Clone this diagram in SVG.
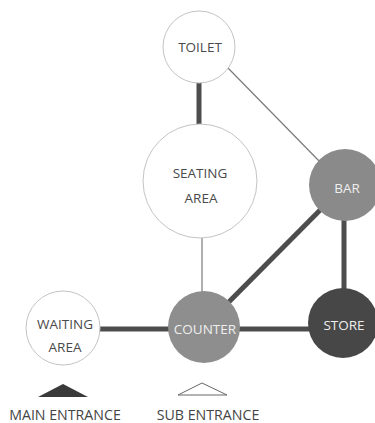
<svg xmlns="http://www.w3.org/2000/svg" width="375" height="423" viewBox="0 0 375 423">
<style>
.thick{stroke:#4d4d4d;stroke-width:5;fill:none}
.thin{stroke:#7a7a7a;stroke-width:1.2;fill:none}
.white{fill:#ffffff;stroke:#c4c4c4;stroke-width:1}
.t{font-family:"Open Sans","Noto Sans",sans-serif;font-size:13.5px;text-anchor:middle;fill:#4a4a4a}
.tl{font-family:"Open Sans","Noto Sans",sans-serif;font-size:13.5px;text-anchor:middle;fill:#eeeeee}
.lbl{font-family:"Open Sans","Noto Sans",sans-serif;font-size:14.2px;text-anchor:middle;fill:#444}
</style>
<rect width="375" height="423" fill="#ffffff"/>
<g id="connectors">
<line class="thick" x1="199" y1="80" x2="199" y2="127"/>
<line class="thin" x1="228" y1="68" x2="322" y2="164"/>
<line class="thin" x1="202" y1="237" x2="202" y2="292"/>
<line class="thick" x1="204" y1="327" x2="345" y2="185"/>
<line class="thick" x1="344" y1="186" x2="344" y2="323"/>
<line class="thick" x1="63" y1="329" x2="344" y2="329"/>
</g>
<g id="toilet">
<circle class="white" cx="199" cy="47" r="36"/>
<text class="t" x="200" y="52">TOILET</text>
</g>
<g id="seating-area">
<circle class="white" cx="200" cy="181" r="57"/>
<text class="t" x="200" y="178">SEATING</text>
<text class="t" x="201" y="203">AREA</text>
</g>
<g id="bar">
<circle cx="345" cy="185" r="36" fill="#8a8a8a"/>
<text class="tl" x="347" y="193">BAR</text>
</g>
<g id="waiting-area">
<circle class="white" cx="63" cy="328" r="37"/>
<text class="t" x="65" y="329">WAITING</text>
<text class="t" x="65" y="352">AREA</text>
</g>
<g id="counter">
<circle cx="204" cy="327" r="36" fill="#8e8e8e"/>
<text class="tl" x="205" y="334">COUNTER</text>
</g>
<g id="store">
<circle cx="343" cy="323" r="35" fill="#474747"/>
<text class="tl" x="344" y="330">STORE</text>
</g>
<g id="main-entrance">
<polygon points="63,384 38,397 88,397" fill="#3a3a3a"/>
<text class="lbl" x="65" y="420">MAIN ENTRANCE</text>
</g>
<g id="sub-entrance">
<polygon points="202,383 178,395 227,395" fill="#ffffff" stroke="#666" stroke-width="1"/>
<text class="lbl" x="208" y="420">SUB ENTRANCE</text>
</g>
</svg>
